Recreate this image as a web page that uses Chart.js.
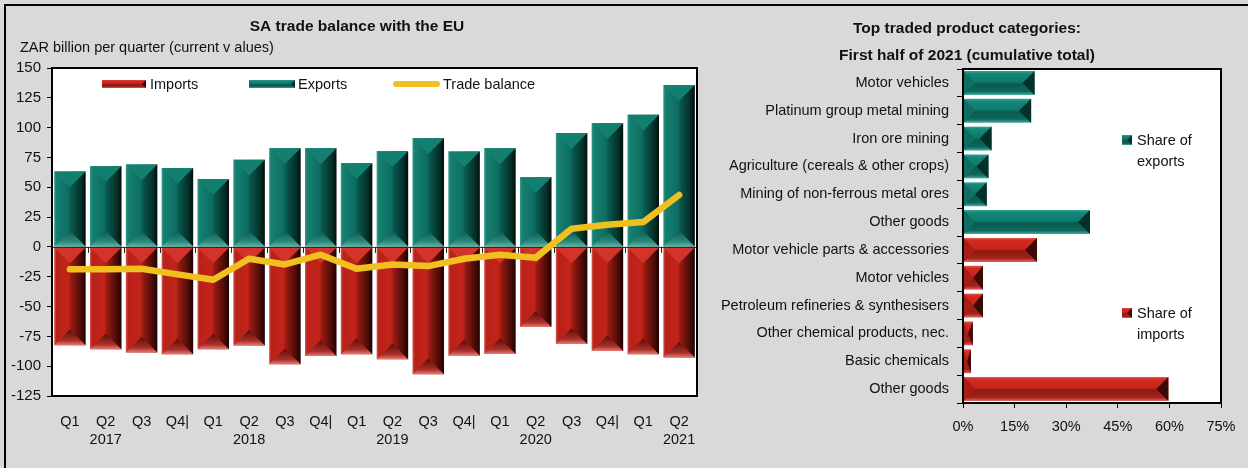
<!DOCTYPE html>
<html><head><meta charset="utf-8">
<script src="https://cdn.jsdelivr.net/npm/chart.js@4.4.1/dist/chart.umd.min.js"></script>
<style>
html,body{margin:0;padding:0;background:#d9d9d9;width:1248px;height:468px;overflow:hidden;position:relative;}
.hl{position:absolute;left:4px;top:4px;width:1244px;height:2px;background:#000;}
.vl{position:absolute;left:4px;top:4px;width:2px;height:464px;background:#000;}
#c1{position:absolute;left:0;top:0;}
#c2{position:absolute;left:712px;top:0;}
</style></head>
<body>
<div class="hl"></div><div class="vl"></div>
<canvas id="c1" width="712" height="468"></canvas>
<canvas id="c2" width="536" height="468"></canvas>
<script>
// ---------------- DATA ----------------
const quarterLabels = ["Q1","Q2","Q3","Q4|","Q1","Q2","Q3","Q4|","Q1","Q2","Q3","Q4|","Q1","Q2","Q3","Q4|","Q1","Q2"];
const yearLabels    = ["","2017","","","","2018","","","","2019","","","","2020","","","","2021"];
const exportsBn  = [63.2,67.7,69.1,66.1,57.0,73.1,82.7,82.7,70.2,80.2,91.1,80.0,82.7,58.5,95.6,103.7,110.7,135.8];
const importsBn  = [-82.5,-85.8,-88.6,-90.0,-85.8,-82.7,-98.4,-91.5,-90.0,-94.2,-106.8,-91.1,-89.8,-67.2,-81.4,-87.3,-90.0,-92.8];
const balanceBn  = [-18.8,-18.8,-18.3,-23.0,-27.5,-9.9,-14.7,-6.5,-18.3,-14.7,-16.1,-9.9,-6.5,-9.0,15.2,18.6,20.8,43.5];
const leftAxisMin = -125, leftAxisMax = 150, leftAxisStep = 25;

const productCategories = ["Motor vehicles","Platinum group metal mining","Iron ore mining","Agriculture (cereals & other crops)","Mining of non-ferrous metal ores","Other goods","Motor vehicle parts & accessories","Motor vehicles","Petroleum refineries & synthesisers","Other chemical products, nec.","Basic chemicals","Other goods"];
const shareOfExports = [20.8,19.8,8.3,7.4,6.9,36.9,null,null,null,null,null,null];
const shareOfImports = [null,null,null,null,null,null,21.5,5.8,5.8,2.85,2.3,59.7];
const shareAxisMin = 0, shareAxisMax = 75, shareAxisStep = 15;

const leftTitle = "SA trade balance with the EU";
const leftSubtitle = "ZAR billion per quarter (current v alues)";
const rightTitle = ["Top traded product categories:", "First half of 2021 (cumulative total)"];

// ---------------- STYLE ----------------
const FONT = "'Liberation Sans', Arial, sans-serif";
const TXT = '#111';
const YELLOW = '#f0c020';

function vGrad(ctx, x0, x1, kind){
  const g = ctx.createLinearGradient(x0,0,x1,0);
  if(kind==='exp'){
    g.addColorStop(0,'#3a9a8e'); g.addColorStop(0.07,'#168070'); g.addColorStop(0.45,'#0d6e62');
    g.addColorStop(0.55,'#09564c'); g.addColorStop(0.85,'#043028'); g.addColorStop(1,'#000e0c');
  } else {
    g.addColorStop(0,'#d65a52'); g.addColorStop(0.07,'#b82219'); g.addColorStop(0.45,'#c42319');
    g.addColorStop(0.55,'#941a12'); g.addColorStop(0.85,'#4a0b07'); g.addColorStop(1,'#1c0302');
  }
  return g;
}
function hGrad(ctx, y0, y1, kind){
  const g = ctx.createLinearGradient(0,y0,0,y1);
  if(kind==='exp'){
    g.addColorStop(0,'#3aa596'); g.addColorStop(0.1,'#14887a'); g.addColorStop(0.45,'#0e7a6b');
    g.addColorStop(0.55,'#0a5a50'); g.addColorStop(0.85,'#0b685c'); g.addColorStop(1,'#48ab9d');
  } else {
    g.addColorStop(0,'#e2554c'); g.addColorStop(0.1,'#d32b21'); g.addColorStop(0.45,'#c6241a');
    g.addColorStop(0.55,'#8e1a12'); g.addColorStop(0.85,'#a42219'); g.addColorStop(1,'#e26464');
  }
  return g;
}
function vertBarFill(kind){
  return (c)=>{
    const ch=c.chart, a=ch.chartArea;
    if(!a || c.dataIndex===undefined) return kind==='exp'?'#0d6e62':'#c42319';
    const sc=ch.scales.x, n=quarterLabels.length;
    const w=(a.right-a.left)/n*0.88, x=sc.getPixelForValue(c.dataIndex);
    return vGrad(ch.ctx, x-w/2, x+w/2, kind);
  };
}
function horBarFill(kind){
  return (c)=>{
    const ch=c.chart, a=ch.chartArea;
    if(!a || c.dataIndex===undefined) return kind==='exp'?'#0e7a6b':'#c6241a';
    const sc=ch.scales.y, n=productCategories.length;
    const h=(a.bottom-a.top)/n*0.86, y=sc.getPixelForValue(c.dataIndex);
    return hGrad(ch.ctx, y-h/2, y+h/2, kind);
  };
}
function tri(ctx,x1,y1,x2,y2,x3,y3,fill){
  ctx.beginPath(); ctx.moveTo(x1,y1); ctx.lineTo(x2,y2); ctx.lineTo(x3,y3); ctx.closePath();
  ctx.fillStyle=fill; ctx.fill();
}
function bevelVertical(ctx, el, kind){
  const p = el.getProps(['x','y','base','width'], true);
  const L=p.x-p.width/2, R=p.x+p.width/2, top=Math.min(p.y,p.base), bot=Math.max(p.y,p.base);
  const d=Math.min(p.width/2, (bot-top)/2);
  ctx.save();
  if(kind==='exp'){
    tri(ctx,L,top,R,top,p.x,top+d,'#13806f');
    const g=ctx.createLinearGradient(0,bot-d,0,bot);
    g.addColorStop(0,'#0b5a50'); g.addColorStop(0.7,'#2a8a7c'); g.addColorStop(1,'#5ab4a6');
    tri(ctx,L,bot,R,bot,p.x,bot-d,g);
  } else {
    tri(ctx,L,top,R,top,p.x,top+d,'#d2342a');
    const g=ctx.createLinearGradient(0,bot-d,0,bot);
    g.addColorStop(0,'#5a0c08'); g.addColorStop(0.7,'#a83028'); g.addColorStop(1,'#ea7a76');
    tri(ctx,L,bot,R,bot,p.x,bot-d,g);
  }
  ctx.restore();
}
function bevelHorizontal(ctx, el, kind){
  const p = el.getProps(['x','y','base','height'], true);
  const top=p.y-p.height/2, bot=p.y+p.height/2, L=Math.min(p.x,p.base), R=Math.max(p.x,p.base);
  const d=Math.min(p.height/2, (R-L)/2);
  ctx.save();
  if(kind==='exp'){
    tri(ctx,R,top,R,bot,R-d,p.y,'#04302a');
    tri(ctx,L,top,L,bot,L+d,p.y,'#0f6e62');
  } else {
    tri(ctx,R,top,R,bot,R-d,p.y,'#3a0805');
    tri(ctx,L,top,L,bot,L+d,p.y,'#a81e16');
  }
  ctx.restore();
}
function legendBarSwatch(ctx,x,y,w,h,kind){
  ctx.fillStyle=hGrad(ctx,y,y+h,kind); ctx.fillRect(x,y,w,h);
  tri(ctx,x+w,y,x+w,y+h,x+w-h/2,y+h/2, kind==='exp'?'#04302a':'#3a0805');
}

// ---------------- LEFT CHART ----------------
const leftPlugin = {
  id:'leftDecor',
  beforeDatasetsDraw(chart){
    const {ctx, chartArea:a}=chart; ctx.save(); ctx.fillStyle='#fff';
    ctx.fillRect(a.left,a.top,a.right-a.left,a.bottom-a.top); ctx.restore();
  },
  afterDatasetDraw(chart,args){
    const ds=chart.data.datasets[args.index]; const ctx=chart.ctx;
    if(ds.kind){ args.meta.data.forEach(el=>bevelVertical(ctx,el,ds.kind)); }
    if(ds.kind==='imp'){
      const a=chart.chartArea, y0=chart.scales.y.getPixelForValue(0), n=quarterLabels.length, cw=(a.right-a.left)/n;
      ctx.save(); ctx.strokeStyle='#222'; ctx.lineWidth=1;
      ctx.beginPath(); ctx.moveTo(a.left,y0+0.5); ctx.lineTo(a.right,y0+0.5);
      for(let i=1;i<n;i++){ const x=Math.round(a.left+i*cw)+0.5; ctx.moveTo(x,y0); ctx.lineTo(x,y0+6); }
      ctx.stroke(); ctx.restore();
    }
  },
  afterDraw(chart){
    const {ctx, chartArea:a}=chart;
    ctx.save();
    ctx.strokeStyle='#000'; ctx.lineWidth=2; ctx.strokeRect(a.left,a.top,a.right-a.left,a.bottom-a.top);
    ctx.fillStyle=TXT; ctx.textBaseline='middle';
    ctx.font='bold 15.5px '+FONT; ctx.textAlign='center'; ctx.fillText(leftTitle,357,27);
    ctx.font='14.5px '+FONT; ctx.textAlign='left'; ctx.fillText(leftSubtitle,20,48);
    // legend
    legendBarSwatch(ctx,102,80,44,8,'imp');
    ctx.fillStyle=TXT; ctx.fillText('Imports',150,84.5);
    legendBarSwatch(ctx,249,80,46,8,'exp');
    ctx.fillStyle=TXT; ctx.fillText('Exports',298,84.5);
    ctx.strokeStyle=YELLOW; ctx.lineWidth=6; ctx.lineCap='round';
    ctx.beginPath(); ctx.moveTo(396,84); ctx.lineTo(437,84); ctx.stroke();
    ctx.fillStyle=TXT; ctx.fillText('Trade balance',443,84.5);
    ctx.restore();
  }
};

new Chart(document.getElementById('c1'),{
  type:'bar',
  data:{
    labels: quarterLabels.map((q,i)=>[q,yearLabels[i]]),
    datasets:[
      {type:'line',label:'Trade balance',data:balanceBn,borderColor:YELLOW,borderWidth:6.5,pointRadius:0,
       borderCapStyle:'round',borderJoinStyle:'round',tension:0,order:0,fill:false},
      {label:'Imports',kind:'imp',data:importsBn,backgroundColor:vertBarFill('imp'),order:1,
       barPercentage:0.88,categoryPercentage:1,grouped:false,borderWidth:0},
      {label:'Exports',kind:'exp',data:exportsBn,backgroundColor:vertBarFill('exp'),order:2,
       barPercentage:0.88,categoryPercentage:1,grouped:false,borderWidth:0}
    ]
  },
  options:{
    responsive:false, animation:false, devicePixelRatio:1,
    layout:{padding:{left:0,right:15,top:68,bottom:0}},
    plugins:{legend:{display:false},title:{display:false},tooltip:{enabled:false}},
    scales:{
      x:{
        grid:{display:false}, border:{display:false},
        ticks:{color:TXT,font:{family:FONT,size:14.5,lineHeight:1.25},padding:9,maxRotation:0,autoSkip:false},
        afterFit(s){ s.height=72; }
      },
      y:{
        min:leftAxisMin,max:leftAxisMax,
        grid:{drawOnChartArea:false,drawTicks:true,tickLength:5,color:'#000',lineWidth:1},
        border:{display:false},
        ticks:{stepSize:leftAxisStep,color:TXT,font:{family:FONT,size:15},padding:6},
        afterFit(s){ s.width=52; }
      }
    }
  },
  plugins:[leftPlugin]
});

// ---------------- RIGHT CHART ----------------
const rightPlugin = {
  id:'rightDecor',
  beforeDatasetsDraw(chart){
    const {ctx, chartArea:a}=chart; ctx.save(); ctx.fillStyle='#fff';
    ctx.fillRect(a.left,a.top,a.right-a.left,a.bottom-a.top); ctx.restore();
  },
  afterDatasetDraw(chart,args){
    const ds=chart.data.datasets[args.index];
    args.meta.data.forEach((el,i)=>{ if(ds.data[i]!=null) bevelHorizontal(chart.ctx,el,ds.kind); });
  },
  afterDraw(chart){
    const {ctx, chartArea:a}=chart;
    ctx.save();
    ctx.strokeStyle='#000'; ctx.lineWidth=2; ctx.strokeRect(a.left,a.top,a.right-a.left,a.bottom-a.top);
    ctx.fillStyle=TXT; ctx.textBaseline='middle'; ctx.textAlign='center';
    ctx.font='bold 15.5px '+FONT;
    ctx.fillText(rightTitle[0],255,28.5);
    ctx.fillText(rightTitle[1],255,55.5);
    ctx.font='14.5px '+FONT; ctx.textAlign='left';
    legendBarSwatch(ctx,410,135,10,10,'exp');
    ctx.fillStyle=TXT; ctx.fillText('Share of',425,141); ctx.fillText('exports',425,162);
    legendBarSwatch(ctx,410,308,10,10,'imp');
    ctx.fillStyle=TXT; ctx.fillText('Share of',425,314); ctx.fillText('imports',425,335);
    ctx.restore();
  }
};

new Chart(document.getElementById('c2'),{
  type:'bar',
  data:{
    labels: productCategories,
    datasets:[
      {label:'Share of exports',kind:'exp',data:shareOfExports,backgroundColor:horBarFill('exp'),
       barPercentage:0.86,categoryPercentage:1,grouped:false,borderWidth:0},
      {label:'Share of imports',kind:'imp',data:shareOfImports,backgroundColor:horBarFill('imp'),
       barPercentage:0.86,categoryPercentage:1,grouped:false,borderWidth:0}
    ]
  },
  options:{
    indexAxis:'y', responsive:false, animation:false, devicePixelRatio:1,
    layout:{padding:{left:0,right:27,top:69,bottom:0}},
    plugins:{legend:{display:false},title:{display:false},tooltip:{enabled:false}},
    scales:{
      x:{
        min:shareAxisMin,max:shareAxisMax,
        grid:{drawOnChartArea:false,drawTicks:true,tickLength:5,color:'#000'},
        border:{display:false},
        ticks:{stepSize:shareAxisStep,color:TXT,font:{family:FONT,size:14.5},padding:10,
               callback:(v)=>v+'%'},
        afterFit(s){ s.height=65; }
      },
      y:{
        grid:{drawOnChartArea:false,drawTicks:true,tickLength:6,color:'#000',offset:true},
        border:{display:false},
        ticks:{color:TXT,font:{family:FONT,size:14.5},padding:8,autoSkip:false},
        afterFit(s){ s.width=251; }
      }
    }
  },
  plugins:[rightPlugin]
});
</script>
</body></html>
